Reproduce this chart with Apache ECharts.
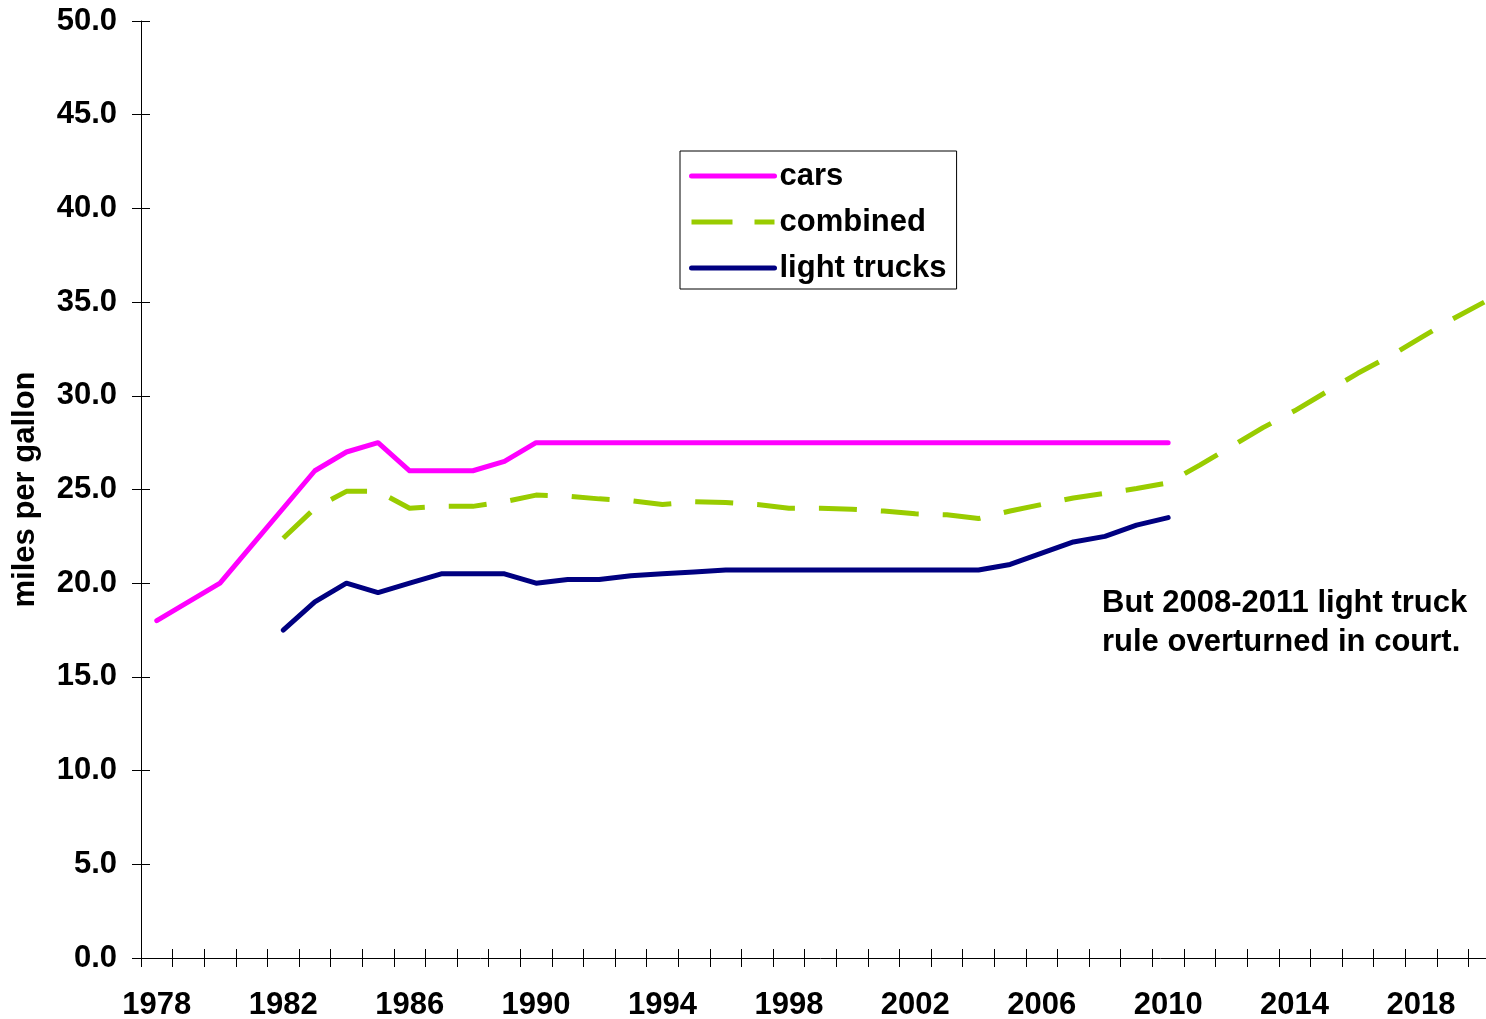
<!DOCTYPE html>
<html>
<head>
<meta charset="utf-8">
<script src="https://cdn.jsdelivr.net/npm/echarts@6/dist/echarts.min.js"></script>
<style>
  html, body { margin: 0; padding: 0; background: #fff; overflow: hidden; }
  #chart { width: 1500px; height: 1019px; }
</style>
</head>
<body>
<div id="chart"></div>
<script>
const years = ['1978','1979','1980','1981','1982','1983','1984','1985','1986','1987',
  '1988','1989','1990','1991','1992','1993','1994','1995','1996','1997',
  '1998','1999','2000','2001','2002','2003','2004','2005','2006','2007',
  '2008','2009','2010','2011','2012','2013','2014','2015','2016','2017',
  '2018','2019','2020'];

const cars = [18.0, 19.0, 20.0, 22.0, 24.0, 26.0, 27.0, 27.5, 26.0, 26.0,
  26.0, 26.5, 27.5, 27.5, 27.5, 27.5, 27.5, 27.5, 27.5, 27.5,
  27.5, 27.5, 27.5, 27.5, 27.5, 27.5, 27.5, 27.5, 27.5, 27.5,
  27.5, 27.5, 27.5, null, null, null, null, null, null, null,
  null, null, null];

const combined = [null, null, null, null, 22.4, 24.0, 24.9, 24.9, 24.0, 24.1,
  24.1, 24.35, 24.7, 24.65, 24.5, 24.4, 24.2, 24.35, 24.3, 24.2,
  24.0, 24.0, 23.95, 23.85, 23.7, 23.65, 23.45, 23.85, 24.2, 24.55,
  24.8, 25.05, 25.35, 26.3, 27.3, 28.3, 29.2, 30.2, 31.2, 32.1,
  33.1, 34.1, 35.0];

const lightTrucks = [null, null, null, null, 17.5, 19.0, 20.0, 19.5, 20.0, 20.5,
  20.5, 20.5, 20.0, 20.2, 20.2, 20.4, 20.5, 20.6, 20.7, 20.7,
  20.7, 20.7, 20.7, 20.7, 20.7, 20.7, 20.7, 21.0, 21.6, 22.2,
  22.5, 23.1, 23.5, null, null, null, null, null, null, null,
  null, null, null];

const annotation = 'But 2008-2011 light truck\nrule overturned in court.';
const yAxisName = 'miles per gallon';

const FONT = '"Liberation Sans", Arial, sans-serif';
const FS = 31;
const chart = echarts.init(document.getElementById('chart'));

const hiddenSymbol = { color: 'rgba(0,0,0,0)', borderWidth: 0, opacity: 0 };

chart.setOption({
  animation: false,
  backgroundColor: '#fff',
  textStyle: { fontFamily: FONT },
  grid: { left: 141, top: 21, right: 0, bottom: 61, containLabel: false, outerBoundsMode: 'none' },
  legend: {
    orient: 'vertical',
    left: 680,
    top: 151,
    padding: [8, 10, 4, 9],
    borderColor: '#000',
    borderWidth: 1,
    itemWidth: 83,
    itemHeight: 14,
    itemGap: 12,
    textStyle: { fontFamily: FONT, fontSize: FS, fontWeight: 'bold', color: '#000', lineHeight: 34 },
    data: [
      { name: 'cars', itemStyle: hiddenSymbol, lineStyle: { color: '#FF00FF', width: 5, cap: 'round' } },
      { name: 'combined', itemStyle: hiddenSymbol, lineStyle: { color: '#99CC00', width: 5, type: [41, 22], cap: 'butt' } },
      { name: 'light trucks', itemStyle: hiddenSymbol, lineStyle: { color: '#000080', width: 5, cap: 'round' } }
    ]
  },
  xAxis: [{
    type: 'category',
    position: 'bottom',
    data: years,
    boundaryGap: true,
    axisLine: { lineStyle: { color: '#000', width: 1 } },
    axisTick: { show: true, interval: 0, length: 9, inside: false, lineStyle: { color: '#000' } },
    axisLabel: { interval: 3, margin: 32, fontFamily: FONT, fontSize: FS, fontWeight: 'bold', color: '#000' },
    splitLine: { show: false }
  }, {
    type: 'category',
    position: 'bottom',
    data: years,
    boundaryGap: true,
    axisLine: { show: false },
    axisTick: { show: true, interval: 0, length: 9, inside: true, lineStyle: { color: '#000' } },
    axisLabel: { show: false },
    splitLine: { show: false }
  }],
  yAxis: [{
    type: 'value',
    position: 'left',
    min: 0,
    max: 50,
    interval: 5,
    name: yAxisName,
    nameLocation: 'middle',
    nameRotate: 90,
    nameGap: 100,
    nameTextStyle: { fontFamily: FONT, fontSize: FS, fontWeight: 'bold', color: '#000' },
    axisLine: { show: true, lineStyle: { color: '#000', width: 1 } },
    axisTick: { show: true, length: 9, inside: false, lineStyle: { color: '#000' } },
    axisLabel: { margin: 24, fontFamily: FONT, fontSize: FS, fontWeight: 'bold', color: '#000',
      formatter: v => v.toFixed(1) },
    splitLine: { show: false }
  }, {
    type: 'value',
    position: 'left',
    min: 0,
    max: 50,
    interval: 5,
    axisLine: { show: false },
    axisTick: { show: true, length: 9, inside: true, lineStyle: { color: '#000' } },
    axisLabel: { show: false },
    splitLine: { show: false }
  }],
  graphic: [{
    type: 'text',
    left: 1102,
    top: 584,
    style: {
      text: annotation,
      font: 'bold ' + FS + 'px ' + FONT,
      fill: '#000',
      lineHeight: 39
    }
  }],
  series: [{
    name: 'cars',
    type: 'line',
    data: cars,
    symbol: 'none',
    lineStyle: { color: '#FF00FF', width: 5, cap: 'round', join: 'round' },
    itemStyle: { color: '#FF00FF' }
  }, {
    name: 'combined',
    type: 'line',
    data: combined,
    symbol: 'none',
    lineStyle: { color: '#99CC00', width: 5, type: [38, 24], cap: 'butt', join: 'round' },
    itemStyle: { color: '#99CC00' }
  }, {
    name: 'light trucks',
    type: 'line',
    data: lightTrucks,
    symbol: 'none',
    lineStyle: { color: '#000080', width: 5, cap: 'round', join: 'round' },
    itemStyle: { color: '#000080' }
  }]
});
</script>
</body>
</html>
